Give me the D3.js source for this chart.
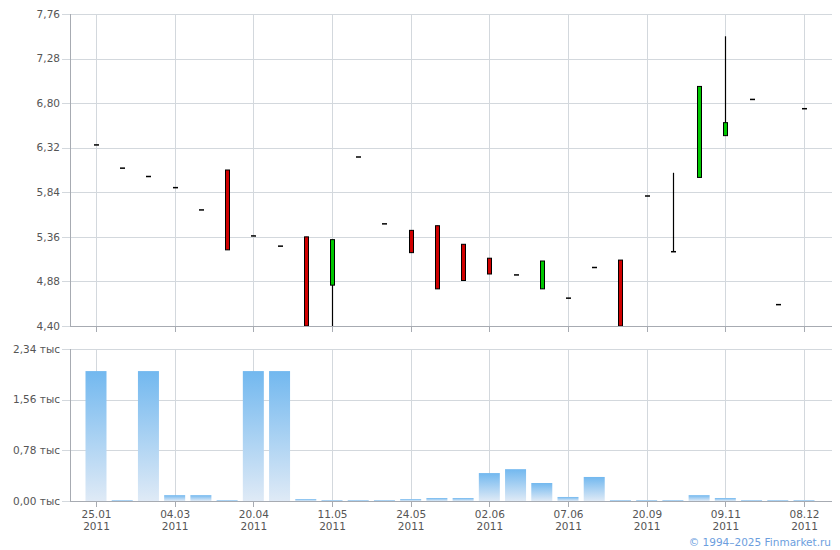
<!DOCTYPE html>
<html><head><meta charset="utf-8">
<script src="https://cdn.jsdelivr.net/npm/d3@7/dist/d3.min.js"></script>
<style>body{margin:0;background:#fff}svg{display:block}text{font-family:"DejaVu Sans",Verdana,sans-serif}</style>
</head><body><svg id="c" width="840" height="550"></svg>
<script>
// Price data per slot (index 0..27)
const opens  = [6.35,6.10,6.01,5.89,5.65,6.08,5.37,5.26,5.36,4.84,6.22,5.50,5.43,5.48,5.28,5.13,4.95,4.80,4.70,5.03,5.11,5.80,5.20,6.00,6.45,6.84,4.63,6.74];
const closes = [6.35,6.10,6.01,5.89,5.65,5.22,5.37,5.26,4.40,5.33,6.22,5.50,5.19,4.80,4.89,4.96,4.95,5.10,4.70,5.03,4.40,5.80,5.20,6.98,6.59,6.84,4.63,6.74];
const highs  = [6.35,6.10,6.01,5.89,5.65,6.08,5.37,5.26,5.36,5.33,6.22,5.50,5.43,5.48,5.28,5.13,4.95,5.10,4.70,5.03,5.11,5.80,6.05,6.98,7.52,6.84,4.63,6.74];
const lows   = [6.35,6.10,6.01,5.89,5.65,5.22,5.37,5.26,4.40,4.40,6.22,5.50,5.19,4.80,4.89,4.96,4.95,4.80,4.70,5.03,4.40,5.80,5.20,6.00,6.45,6.84,4.63,6.74];
// Volume, thousands
const volumes = [2.00,0.015,2.00,0.09,0.09,0.015,2.00,2.00,0.03,0.015,0.015,0.015,0.03,0.046,0.046,0.43,0.49,0.277,0.062,0.37,0.015,0.015,0.015,0.09,0.046,0.015,0.015,0.015];
const tickIdx   = [0,3,6,9,12,15,18,21,24,27];
const tickDates = ["25.01","04.03","20.04","11.05","24.05","02.06","07.06","20.09","09.11","08.12"];
const tickYears = ["2011","2011","2011","2011","2011","2011","2011","2011","2011","2011"];
const priceTicks = [4.40,4.88,5.36,5.84,6.32,6.80,7.28,7.76];
const volTicks = [0,0.78,1.56,2.34];

const svg = d3.select("#c");
const L = 70, R = 832;
const FS = 10.5;
const x = d3.scaleLinear().domain([0,27]).range([96,804]);
const y = d3.scaleLinear().domain([4.40,7.76]).range([326,14]);
const yv = d3.scaleLinear().domain([0,2.34]).range([501,349]);
const gridC = "#d3d8dd", axisC = "#a7abb2", txtC = "#555";
const fmt = v => v.toFixed(2).replace(".", ",");

const defs = svg.append("defs");
const grad = defs.append("linearGradient").attr("id","vg").attr("x1",0).attr("y1",0).attr("x2",0).attr("y2",1);
grad.append("stop").attr("offset","0%").attr("stop-color","#72b8ef");
grad.append("stop").attr("offset","100%").attr("stop-color","#dfeaf6");
const clip = defs.append("clipPath").attr("id","pc");
clip.append("rect").attr("x",L).attr("y",14).attr("width",R-L).attr("height",312);

function panel(ys, ticks, fmtT, top, bottom) {
  const g = svg.append("g");
  g.selectAll(".hg").data(ticks).join("line")
    .attr("x1", L-8).attr("x2", R).attr("y1", d=>Math.round(ys(d))+0.5).attr("y2", d=>Math.round(ys(d))+0.5)
    .attr("stroke", gridC);
  g.selectAll(".vg").data(tickIdx).join("line")
    .attr("x1", d=>Math.round(x(d))+0.5).attr("x2", d=>Math.round(x(d))+0.5)
    .attr("y1", top).attr("y2", bottom+6).attr("stroke", gridC);
  g.append("line").attr("x1",L+0.5).attr("x2",L+0.5).attr("y1",top).attr("y2",bottom).attr("stroke",axisC);
  g.append("line").attr("x1",L).attr("x2",R).attr("y1",bottom+0.5).attr("y2",bottom+0.5).attr("stroke",axisC);
  g.selectAll(".xt").data(tickIdx).join("line")
    .attr("x1", d=>Math.round(x(d))+0.5).attr("x2", d=>Math.round(x(d))+0.5)
    .attr("y1", bottom).attr("y2", bottom+6).attr("stroke", axisC);
  g.selectAll(".yl").data(ticks).join("text")
    .attr("x", 60).attr("y", d=>ys(d)).attr("dy","0.35em")
    .attr("text-anchor","end").attr("font-size",FS).attr("fill",txtC).text(fmtT);
  return g;
}
panel(y, priceTicks, fmt, 14, 326);
panel(yv, volTicks, d => fmt(d) + " тыс", 349, 501);

// candles
const cg = svg.append("g").attr("clip-path","url(#pc)");
const idx = d3.range(opens.length);
cg.selectAll(".wick").data(idx.filter(i => highs[i] > lows[i])).join("line")
  .attr("x1", i=>Math.round(x(i))+0.5).attr("x2", i=>Math.round(x(i))+0.5)
  .attr("y1", i=>y(highs[i])).attr("y2", i=>y(lows[i])).attr("stroke","#000").attr("stroke-width",1.2);
cg.selectAll(".body").data(idx.filter(i => Math.abs(opens[i]-closes[i]) > 0.005)).join("rect")
  .attr("x", i=>Math.round(x(i))-1.5).attr("width",4)
  .attr("y", i=>y(Math.max(opens[i],closes[i])))
  .attr("height", i=>Math.abs(y(opens[i])-y(closes[i])))
  .attr("fill", i=> closes[i] > opens[i] ? "#00c800" : "#d00000")
  .attr("stroke","#000").attr("stroke-width",1);
cg.selectAll(".dash").data(idx.filter(i => Math.abs(opens[i]-closes[i]) <= 0.005)).join("line")
  .attr("x1", i=>Math.round(x(i))-2).attr("x2", i=>Math.round(x(i))+3)
  .attr("y1", i=>y(closes[i])).attr("y2", i=>y(closes[i])).attr("stroke","#000").attr("stroke-width",1.5);

// volume bars
const bw = 21;
svg.append("g").selectAll("rect").data(idx).join("rect")
  .attr("x", i=>x(i)-bw/2).attr("width",bw)
  .attr("y", i=>yv(volumes[i])).attr("height", i=>yv(0)-yv(volumes[i]))
  .attr("fill","url(#vg)");
svg.append("line").attr("x1",L).attr("x2",R).attr("y1",501.5).attr("y2",501.5).attr("stroke",axisC);

// x labels
const xl = svg.append("g");
xl.selectAll(".d").data(tickIdx).join("text")
  .attr("x", i=>x(i)+0.5).attr("y", 517.5).attr("text-anchor","middle").attr("font-size",FS).attr("fill",txtC)
  .text((d,k)=>tickDates[k]);
xl.selectAll(".yy").data(tickIdx).join("text")
  .attr("x", i=>x(i)+0.5).attr("y", 529.5).attr("text-anchor","middle").attr("font-size",FS).attr("fill",txtC)
  .text((d,k)=>tickYears[k]);

svg.append("text").attr("x",831).attr("y",546).attr("text-anchor","end").attr("font-size",FS)
  .attr("fill","#6c9ede").text("© 1994–2025 Finmarket.ru");
</script></body></html>
